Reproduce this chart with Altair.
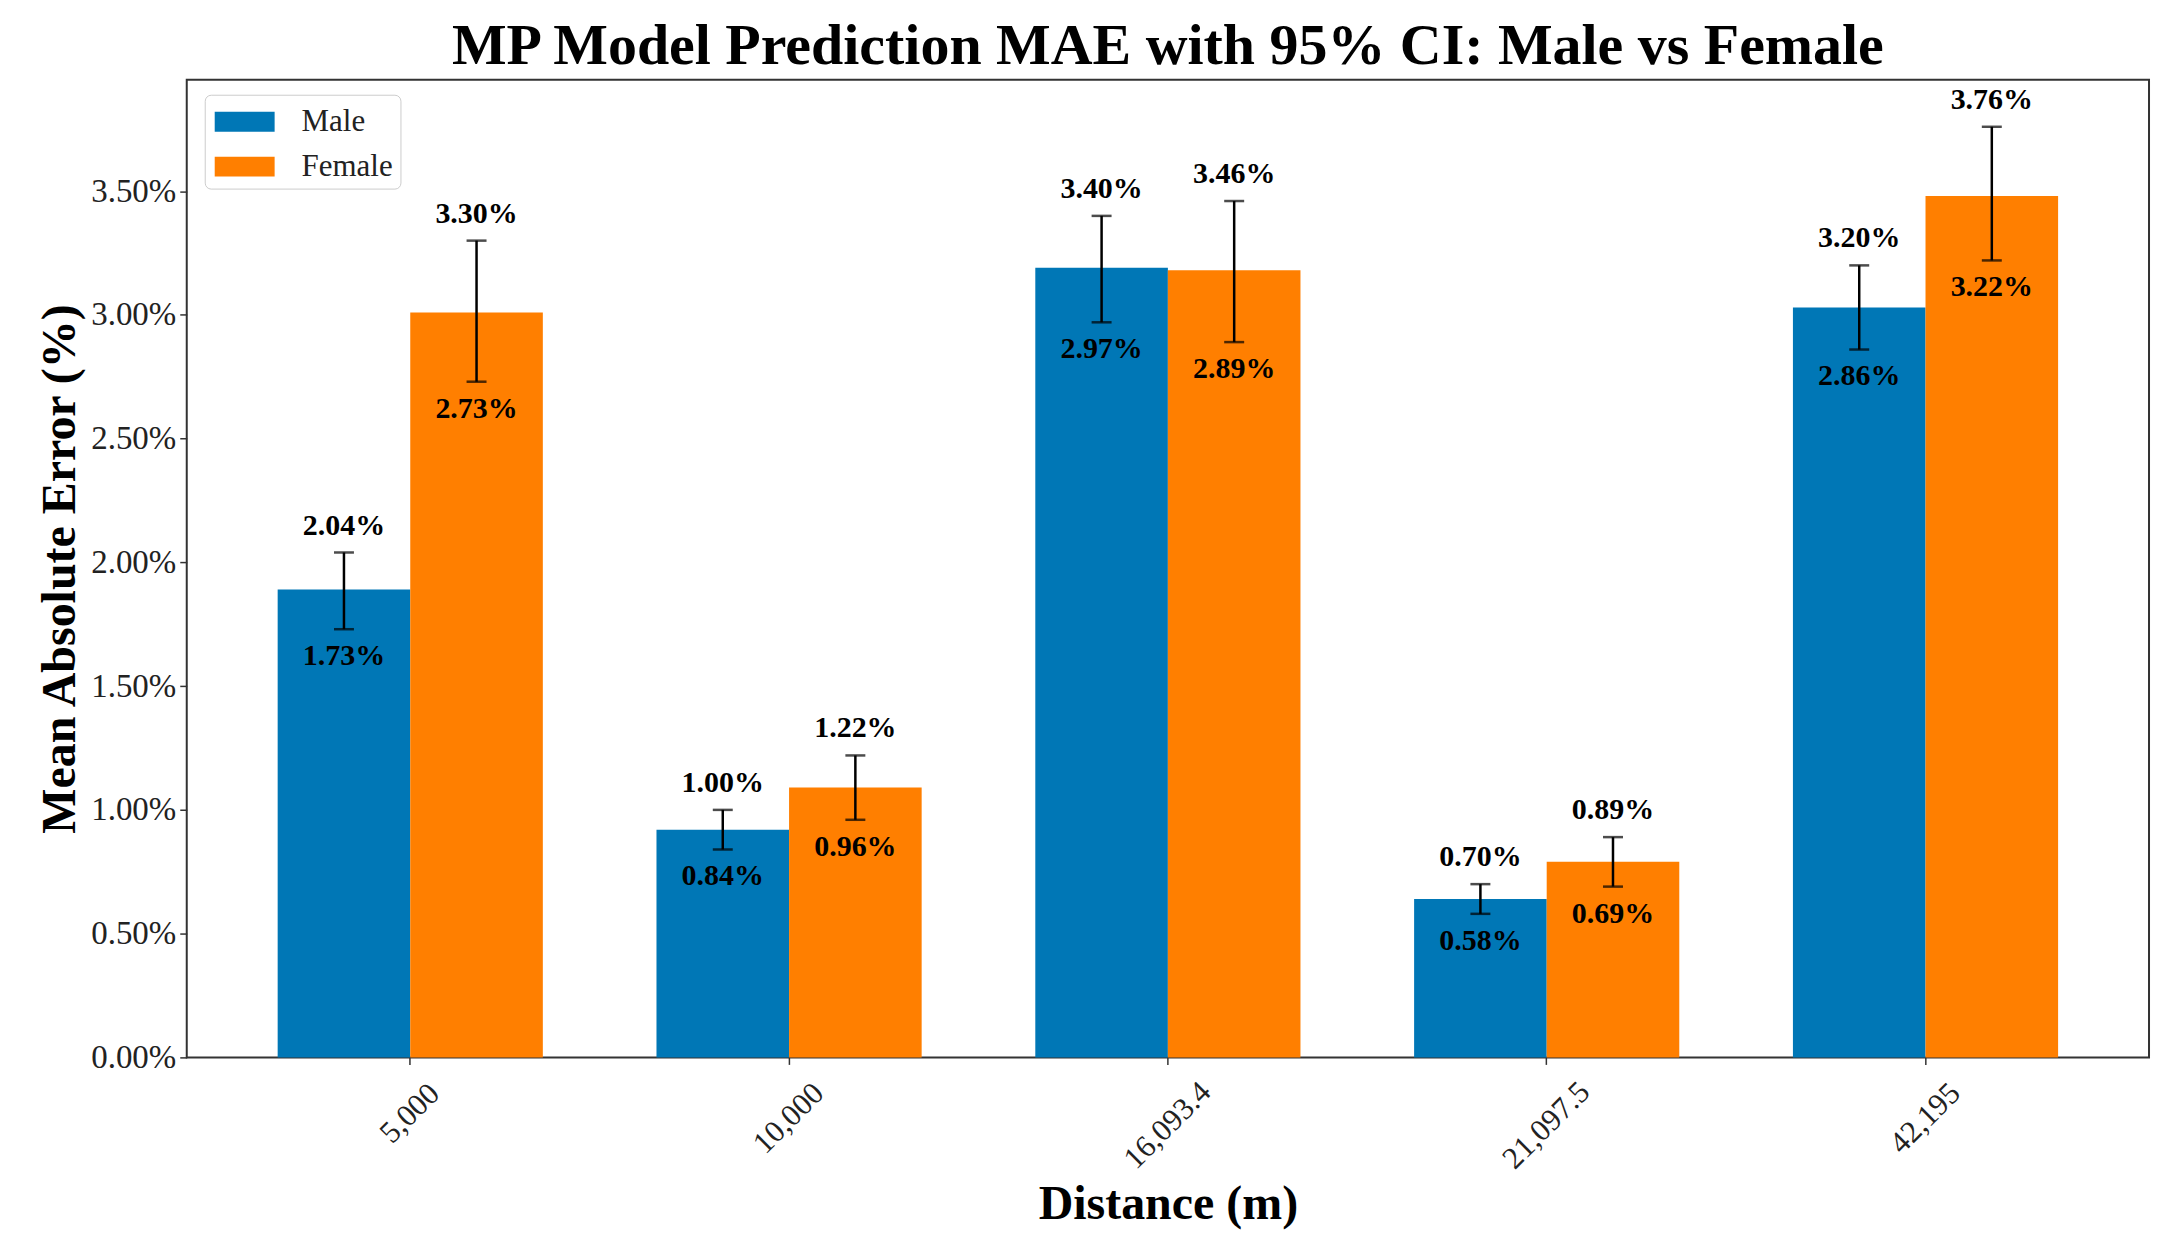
import altair as alt
import pandas as pd

distances = ["5,000", "10,000", "16,093.4", "21,097.5", "42,195"]
genders = ["Male", "Female"]
colors = ["#0077b6", "#ff7f00"]

male_mae = [1.89, 0.92, 3.19, 0.64, 3.03]
male_lo = [1.73, 0.84, 2.97, 0.58, 2.86]
male_hi = [2.04, 1.00, 3.40, 0.70, 3.20]
female_mae = [3.01, 1.09, 3.18, 0.79, 3.48]
female_lo = [2.73, 0.96, 2.89, 0.69, 3.22]
female_hi = [3.30, 1.22, 3.46, 0.89, 3.76]

y_ticks = [0, 0.5, 1.0, 1.5, 2.0, 2.5, 3.0, 3.5]

rows = []
for g, mae, lo, hi in [
    ("Male", male_mae, male_lo, male_hi),
    ("Female", female_mae, female_lo, female_hi),
]:
    for d, m, l, h in zip(distances, mae, lo, hi):
        rows.append(
            {"distance": d, "gender": g, "mae": m, "lo": l, "hi": h,
             "lo_txt": f"{l:.2f}%", "hi_txt": f"{h:.2f}%"}
        )
df = pd.DataFrame(rows)

FONT = "Liberation Serif"
Y_TITLE = "Mean Absolute Error (%)"

# rotated labels are centred under the tick, so longer ones sit lower
x_label_pad = {
    "condition": [
        {"test": "length(datum.value) >= 8", "value": 61},
        {"test": "length(datum.value) == 6", "value": 54},
    ],
    "value": 49,
}

x_enc = alt.X(
    "distance:N",
    sort=distances,
    title="Distance (m)",
    scale=alt.Scale(paddingInner=0.3, paddingOuter=0.24),
    axis=alt.Axis(
        labelAngle=315, labelAlign="center", labelBaseline="middle",
        labelPadding=x_label_pad, labelFont=FONT, labelFontSize=31,
        labelColor="#222222", tickSize=7, tickWidth=1.5, tickColor="#333333",
        domain=False, titleFont=FONT, titleFontSize=48, titleFontWeight="bold",
        titleColor="black", titlePadding=6,
    ),
)
x_off = alt.XOffset(
    "gender:N", sort=genders, scale=alt.Scale(paddingInner=0, paddingOuter=0)
)


def yq(field):
    return alt.Y(
        f"{field}:Q",
        title=Y_TITLE,
        scale=alt.Scale(domain=[0, 3.95], nice=False, zero=True),
        axis=alt.Axis(
            values=y_ticks, labelExpr="format(datum.value, '.2f') + '%'",
            labelFont=FONT, labelFontSize=33, labelColor="#222222",
            tickSize=7, tickWidth=1.5, tickColor="#333333", labelPadding=4,
            domain=False, grid=False, titleFont=FONT, titleFontSize=48,
            titleFontWeight="bold", titleColor="black", titlePadding=6,
        ),
    )


base = alt.Chart(df).encode(x=x_enc, xOffset=x_off)

bars = base.mark_bar().encode(
    y=yq("mae"),
    color=alt.Color(
        "gender:N",
        sort=genders,
        scale=alt.Scale(domain=genders, range=colors),
        legend=alt.Legend(
            title=None, orient="none", legendX=18, legendY=15,
            direction="vertical",
            symbolType="M-1.5,-0.5H1.5V0.5H-1.5Z", symbolSize=1600,
            symbolOffset=13, symbolStrokeWidth=0,
            labelFont=FONT, labelFontSize=31, labelColor="#222222",
            labelOffset=37, rowPadding=10, padding=7,
            strokeColor="#cccccc", fillColor="white", cornerRadius=6,
        ),
    ),
)

err = base.mark_rule(color="black", strokeWidth=2.5).encode(
    y=yq("lo"), y2="hi:Q"
)
cap_lo = base.mark_tick(
    color="black", thickness=2.5, size=20, orient="horizontal"
).encode(y=yq("lo"))
cap_hi = base.mark_tick(
    color="black", thickness=2.5, size=20, orient="horizontal"
).encode(y=yq("hi"))

txt_hi = base.mark_text(
    font=FONT, fontWeight="bold", fontSize=30, baseline="bottom", dy=-12,
    color="black",
).encode(y=yq("hi"), text="hi_txt:N")
txt_lo = base.mark_text(
    font=FONT, fontWeight="bold", fontSize=30, baseline="top", dy=12,
    color="black",
).encode(y=yq("lo"), text="lo_txt:N")

chart = (
    alt.layer(bars, err, cap_lo, cap_hi, txt_hi, txt_lo)
    .properties(
        width=1965,
        height=979,
        padding={"left": 28, "top": 9, "right": 10, "bottom": 5},
        title=alt.Title(
            "MP Model Prediction MAE with 95% CI: Male vs Female",
            font=FONT, fontSize=58, fontWeight="bold", anchor="middle",
            offset=4, color="black",
        ),
    )
    .configure_view(stroke="#333333", strokeWidth=2)
)

chart.save("out.html", embed_options={"renderer": "svg", "actions": False})
